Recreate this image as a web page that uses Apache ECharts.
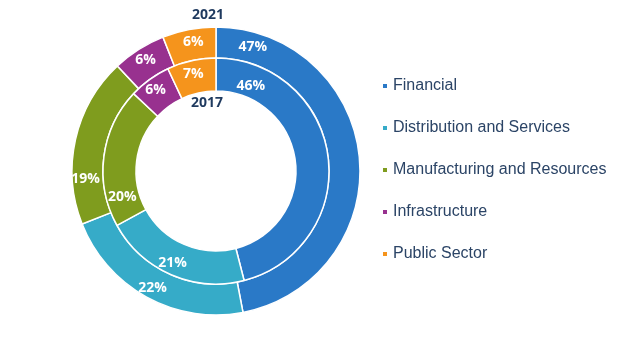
<!DOCTYPE html>
<html lang="en">
  <head>
    <meta charset="utf-8" />
    <title>Sector mix 2017 vs 2021</title>
    <script src="https://cdn.jsdelivr.net/npm/echarts@6/dist/echarts.min.js"></script>
    <style>
      html, body { margin: 0; padding: 0; background: #fff; }
      #chart1 { width: 630px; height: 350px; }
    </style>
  </head>
  <body>
    <div id="chart1"></div>
    <script type="text/javascript">
      var sectors = [
        "Financial",
        "Distribution and Services",
        "Manufacturing and Resources",
        "Infrastructure",
        "Public Sector",
      ];
      var share2021 = [47, 22, 19, 6, 6];
      var share2017 = [46, 21, 20, 6, 7];
      var colors = ["#2a79c7", "#36abc8", "#7f9c1e", "#98318f", "#f5941c"];

      // label nudges so the text sits where the original puts it
      var outerOffsets = [[-94, -112], [0, 2], [-2, 37], [0, 0], [2, 0]];
      var innerOffsets = [[-64, -73], [-4, 1], [5, 38], [-2, 0], [-1, 0]];

      function buildData(values, offsets) {
        var out = [];
        for (let i = 0; i < sectors.length; ++i) {
          out.push({
            name: sectors[i],
            value: values[i],
            label: { offset: offsets[i] },
          });
        }
        return out;
      }

      var ringLabel = {
        show: true,
        position: "inside",
        formatter: "{c}%",
        color: "#ffffff",
        fontFamily: "Open Sans",
        fontWeight: "bold",
        fontSize: 14,
      };

      var myChart = echarts.init(document.getElementById("chart1"));
      myChart.setOption({
        color: colors,
        animation: false,
        legend: {
          orient: "vertical",
          left: 376,
          top: 72,
          icon: "rect",
          itemWidth: 6,
          itemHeight: 6,
          itemGap: 24,
          data: sectors,
          textStyle: {
            fontFamily: "Liberation Sans",
            fontSize: 16,
            lineHeight: 18,
            color: "#2b4466",
          },
        },
        graphic: [
          {
            type: "text",
            left: 192,
            top: 8,
            style: {
              text: "2021",
              fontFamily: "Open Sans",
              fontWeight: "bold",
              fontSize: 14,
              fill: "#1f3a5f",
            },
          },
          {
            type: "text",
            left: 191,
            top: 96,
            style: {
              text: "2017",
              fontFamily: "Open Sans",
              fontWeight: "bold",
              fontSize: 14,
              fill: "#1f3a5f",
            },
          },
        ],
        series: [
          {
            name: "2021",
            type: "pie",
            center: [216, 171],
            radius: [113, 144],
            startAngle: 90,
            clockwise: true,
            itemStyle: { borderColor: "#ffffff", borderWidth: 1.5 },
            label: ringLabel,
            labelLine: { show: false },
            emphasis: { disabled: true },
            data: buildData(share2021, outerOffsets),
          },
          {
            name: "2017",
            type: "pie",
            center: [216, 171],
            radius: [80, 113],
            startAngle: 90,
            clockwise: true,
            itemStyle: { borderColor: "#ffffff", borderWidth: 1.5 },
            label: ringLabel,
            labelLine: { show: false },
            emphasis: { disabled: true },
            data: buildData(share2017, innerOffsets),
          },
        ],
      });
    </script>
  </body>
</html>
